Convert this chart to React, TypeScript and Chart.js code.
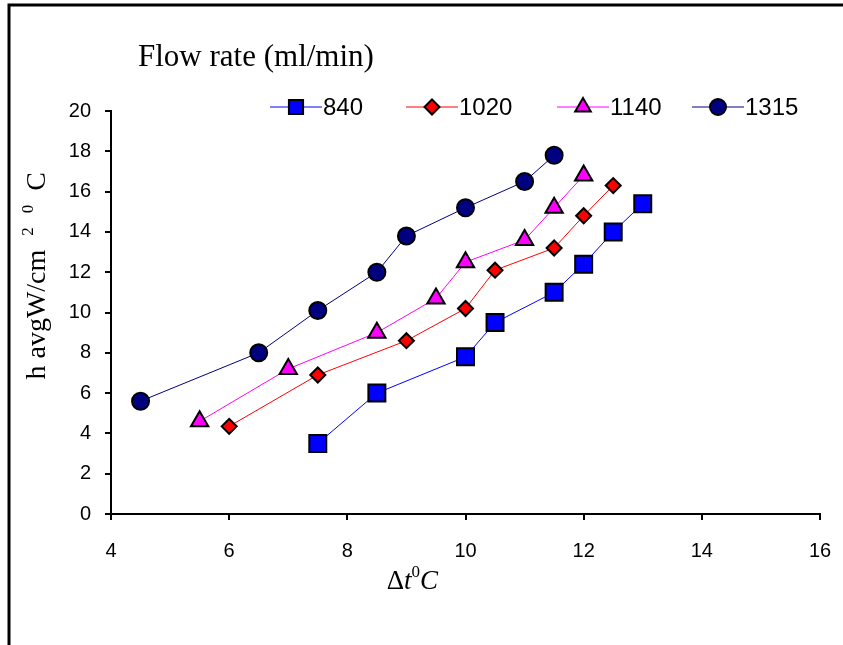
import React, { useEffect, useRef } from "react";
import { Chart, registerables } from "chart.js";
import { drawPoint } from "chart.js/helpers";

Chart.register(...registerables);

// ---- data ----
const seriesNames = ["840", "1020", "1140", "1315"];
const x840 = [7.5, 8.5, 10, 10.5, 11.5, 12, 12.5, 13];
const y840 = [3.5, 6.0, 7.8, 9.5, 11.0, 12.4, 14.0, 15.4];
const x1020 = [6, 7.5, 9, 10, 10.5, 11.5, 12, 12.5];
const y1020 = [4.35, 6.9, 8.6, 10.2, 12.1, 13.2, 14.8, 16.3];
const x1140 = [5.5, 7, 8.5, 9.5, 10, 11, 11.5, 12];
const y1140 = [4.6, 7.2, 9.0, 10.7, 12.5, 13.6, 15.2, 16.8];
const x1315 = [4.5, 6.5, 7.5, 8.5, 9, 10, 11, 11.5];
const y1315 = [5.6, 8.0, 10.1, 12.0, 13.8, 15.2, 16.5, 17.8];
const xTickValues = [4, 6, 8, 10, 12, 14, 16];
const yTickValues = [0, 2, 4, 6, 8, 10, 12, 14, 16, 18, 20];

const chartTitle = "Flow rate (ml/min)";

// ---- styles ----
const styles = [
  { line: "#0000FF", fill: "#0000FF", point: "rect", radius: 12, legendRadius: 10 },
  { line: "#FF0000", fill: "#FF0000", point: "rectRot", radius: 7.5, legendRadius: 7.5 },
  { line: "#FF00FF", fill: "#FF00FF", point: "triangle", radius: 10, legendRadius: 9 },
  { line: "#000080", fill: "#000080", point: "circle", radius: 8.5, legendRadius: 8 },
];
const xs = [x840, x1020, x1140, x1315];
const ys = [y840, y1020, y1140, y1315];

const SANS = "'Liberation Sans', Arial, sans-serif";
const SERIF = "'Liberation Serif', 'Times New Roman', serif";

const decorPlugin = {
  id: "decor",
  afterDraw(chart: any) {
    const ctx: CanvasRenderingContext2D = chart.ctx;
    const area = chart.chartArea;
    ctx.save();
    // frame
    ctx.strokeStyle = "#000";
    ctx.lineWidth = 3;
    ctx.beginPath();
    ctx.moveTo(9, 645);
    ctx.lineTo(9, 5);
    ctx.lineTo(843, 5);
    ctx.stroke();

    // title
    ctx.fillStyle = "#000";
    ctx.font = `31px ${SERIF}`;
    ctx.textBaseline = "middle";
    ctx.textAlign = "left";
    ctx.fillText(chartTitle, 138, 58);

    // legend
    const centers = [296, 432, 583, 718];
    const ly = 107;
    ctx.font = `24px ${SANS}`;
    seriesNames.forEach((name, i) => {
      const s = styles[i];
      const cx = centers[i];
      ctx.strokeStyle = s.line;
      ctx.lineWidth = 1;
      ctx.beginPath();
      ctx.moveTo(cx - 26, ly);
      ctx.lineTo(cx + 26, ly);
      ctx.stroke();
      ctx.fillStyle = s.fill;
      ctx.strokeStyle = "#000";
      ctx.lineWidth = 2;
      drawPoint(ctx, { pointStyle: s.point, radius: s.legendRadius, rotation: 0, borderWidth: 2 } as any, cx, ly);
      ctx.fillStyle = "#000";
      ctx.textAlign = "left";
      ctx.textBaseline = "middle";
      ctx.fillText(name, cx + 27, ly + 1);
    });

    // y axis title: h avgW/cm ² ⁰ C  (rotated)
    const big = `28px ${SERIF}`;
    const small = `17px ${SERIF}`;
    const parts: [string, string, number][] = [
      ["h avgW/cm", big, 0],
      ["  ", big, 0],
      ["2", small, -9],
      ["  ", big, 0],
      ["0", small, -9],
      ["  ", big, 0],
      ["C", big, 0],
    ];
    let total = 0;
    parts.forEach(([t, f]) => {
      ctx.font = f;
      total += ctx.measureText(t).width;
    });
    const endY = area.top + 61;
    ctx.save();
    ctx.translate(38, endY + total);
    ctx.rotate(-Math.PI / 2);
    ctx.textBaseline = "middle";
    ctx.textAlign = "left";
    ctx.fillStyle = "#000";
    let px = 0;
    parts.forEach(([t, f, dy]) => {
      ctx.font = f;
      ctx.fillText(t, px, dy);
      px += ctx.measureText(t).width;
    });
    ctx.restore();

    // x axis title: Δt⁰C
    const tx = area.left + (area.right - area.left) * 0.425;
    const ty = 582;
    const xp: [string, string, number][] = [
      ["Δ", `27px ${SERIF}`, 0],
      ["t", `italic 27px ${SERIF}`, 0],
      ["0", `17px ${SERIF}`, -9],
      ["C", `italic 27px ${SERIF}`, 0],
    ];
    let tw = 0;
    xp.forEach(([t, f]) => {
      ctx.font = f;
      tw += ctx.measureText(t).width;
    });
    let qx = tx - tw / 2;
    ctx.textBaseline = "middle";
    ctx.textAlign = "left";
    xp.forEach(([t, f, dy]) => {
      ctx.font = f;
      ctx.fillText(t, qx, ty + dy);
      qx += ctx.measureText(t).width;
    });
    ctx.restore();
  },
};

export default function App() {
  const ref = useRef<HTMLCanvasElement>(null);
  useEffect(() => {
    const canvas = ref.current!;
    const datasets = seriesNames.map((name, i) => ({
      label: name,
      data: xs[i].map((x, j) => ({ x, y: ys[i][j] })),
      borderColor: styles[i].line,
      borderWidth: 1,
      backgroundColor: styles[i].fill,
      pointStyle: styles[i].point,
      pointRadius: styles[i].radius,
      pointBackgroundColor: styles[i].fill,
      pointBorderColor: "#000",
      pointBorderWidth: 2,
      showLine: true,
      tension: 0,
      clip: false as any,
    }));
    const chart = new Chart(canvas, {
      type: "line",
      data: { datasets },
      options: {
        animation: false,
        responsive: false,
        events: [],
        layout: { padding: { left: 0, top: 111, right: 23, bottom: 81 } },
        plugins: {
          legend: { display: false },
          tooltip: { enabled: false },
          title: { display: false },
        },
        scales: {
          x: {
            type: "linear",
            min: 4,
            max: 16,
            afterBuildTicks: (s: any) => {
              s.ticks = xTickValues.map((v) => ({ value: v }));
            },
            afterFit: (s: any) => {
              s.height = 50;
              s.paddingLeft = 0;
              s.paddingRight = 0;
            },
            grid: { drawOnChartArea: false, drawTicks: true, tickLength: 6, color: "#000", lineWidth: 2 },
            border: { display: true, color: "#000", width: 2 },
            ticks: { color: "#000", font: { family: SANS, size: 20 }, padding: 19, maxRotation: 0 },
          },
          y: {
            type: "linear",
            min: 0,
            max: 20,
            afterBuildTicks: (s: any) => {
              s.ticks = yTickValues.map((v) => ({ value: v }));
            },
            afterFit: (s: any) => {
              s.width = 111;
              s.paddingTop = 0;
              s.paddingBottom = 0;
            },
            grid: { drawOnChartArea: false, drawTicks: true, tickLength: 6, color: "#000", lineWidth: 2 },
            border: { display: true, color: "#000", width: 2 },
            ticks: { color: "#000", font: { family: SANS, size: 20 }, padding: 14 },
          },
        },
      },
      plugins: [decorPlugin],
    });
    return () => chart.destroy();
  }, []);
  return (
    <div style={{ position: "absolute", left: 0, top: 0, width: 843, height: 645, background: "#fff" }}>
      <canvas ref={ref} width={843} height={645} style={{ display: "block" }} />
    </div>
  );
}
